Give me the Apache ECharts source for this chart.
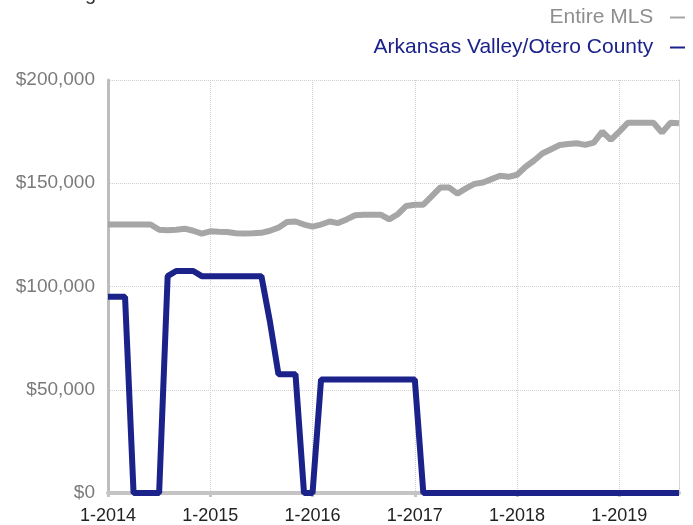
<!DOCTYPE html>
<html>
<head>
<meta charset="utf-8">
<script src="https://cdn.jsdelivr.net/npm/echarts@6/dist/echarts.min.js"></script>
<style>
  html, body { margin: 0; padding: 0; background: #fff; }
  #chart { width: 693px; height: 525px; }
</style>
</head>
<body>
<div id="chart"></div>
<script>
// month labels, 1-2014 .. 8-2019
const months = [
  '1-2014','2-2014','3-2014','4-2014','5-2014','6-2014','7-2014','8-2014','9-2014','10-2014','11-2014','12-2014',
  '1-2015','2-2015','3-2015','4-2015','5-2015','6-2015','7-2015','8-2015','9-2015','10-2015','11-2015','12-2015',
  '1-2016','2-2016','3-2016','4-2016','5-2016','6-2016','7-2016','8-2016','9-2016','10-2016','11-2016','12-2016',
  '1-2017','2-2017','3-2017','4-2017','5-2017','6-2017','7-2017','8-2017','9-2017','10-2017','11-2017','12-2017',
  '1-2018','2-2018','3-2018','4-2018','5-2018','6-2018','7-2018','8-2018','9-2018','10-2018','11-2018','12-2018',
  '1-2019','2-2019','3-2019','4-2019','5-2019','6-2019','7-2019','8-2019'
];

const entireMls = [
  130000, 130000, 130000, 130000, 130000, 130000, 127500, 127200, 127500, 128000, 127000, 125600,
  126700, 126500, 126400, 125800, 125700, 125800, 126000, 127000, 128500, 131200, 131500, 130000,
  129000, 130000, 131500, 130700, 132500, 134500, 134800, 134800, 134800, 132500, 135000, 139000,
  139600, 139600, 143800, 148000, 148000, 145000, 147500, 149700, 150400, 152000, 153600, 153100,
  154100, 158000, 161000, 164500, 166500, 168500, 169000, 169400, 168600, 169700, 175000, 171000,
  175000, 179300, 179300, 179300, 179300, 174500, 179300, 179000
];

const arkansasValley = [
  95000, 95000, 95000, 0, 0, 0, 0, 105000, 107500, 107500, 107500, 105000,
  105000, 105000, 105000, 105000, 105000, 105000, 105000, 83000, 57500, 57500, 57500, 0,
  0, 55000, 55000, 55000, 55000, 55000, 55000, 55000, 55000, 55000, 55000, 55000,
  55000, 0, 0, 0, 0, 0, 0, 0, 0, 0, 0, 0,
  0, 0, 0, 0, 0, 0, 0, 0, 0, 0, 0, 0,
  0, 0, 0, 0, 0, 0, 0, 0
];

const yTicks = [0, 50000, 100000, 150000, 200000];

const font = '"Liberation Sans", Arial, sans-serif';
const everyYear = (i) => i % 12 === 0;

const chart = echarts.init(document.getElementById('chart'));
chart.setOption({
  animation: false,
  textStyle: { fontFamily: font },
  title: {
    text: 'Rolling 12-Month Calculation',
    left: 30,
    top: -21,
    textStyle: { fontSize: 20, fontWeight: 'normal', color: '#333', fontFamily: font },
  },
  legend: {
    orient: 'vertical',
    right: 3,
    top: 2,
    align: 'right',
    icon: 'rect',
    itemWidth: 15,
    itemHeight: 2,
    itemGap: 9,
    formatter: (name) => name + '  ',
    textStyle: { fontSize: 21, fontFamily: font },
    data: [
      { name: 'Entire MLS', textStyle: { color: '#8e8e8e' } },
      { name: 'Arkansas Valley/Otero County', textStyle: { color: '#1b228a' } },
    ],
  },
  grid: { left: 108, right: 14, top: 80, bottom: 31 },
  xAxis: {
    type: 'category',
    boundaryGap: false,
    data: months,
    axisLine: { lineStyle: { color: '#c4c4c4', width: 4 } },
    axisTick: {
      show: true,
      interval: (i) => everyYear(i),
      length: 4,
      lineStyle: { color: '#c4c4c4', width: 3 },
    },
    axisLabel: {
      interval: (i) => everyYear(i),
      color: '#222',
      fontSize: 18,
      margin: 14,
    },
    splitLine: {
      show: true,
      interval: (i) => everyYear(i),
      lineStyle: { color: '#cfcfcf', type: 'dotted', width: 1 },
    },
  },
  yAxis: [
    {
      type: 'value',
      min: yTicks[0],
      max: yTicks[yTicks.length - 1],
      interval: 50000,
      axisLine: { show: true, lineStyle: { color: '#bdbdbd', width: 3 } },
      axisTick: { show: false },
      axisLabel: {
        color: '#7a7a7a',
        fontSize: 19,
        margin: 13,
        formatter: (v) => '$' + v.toLocaleString('en-US'),
      },
      splitLine: { lineStyle: { color: '#cfcfcf', type: 'dotted', width: 1 } },
    },
    {
      type: 'value',
      position: 'right',
      min: yTicks[0],
      max: yTicks[yTicks.length - 1],
      interval: 50000,
      axisLine: { show: true, lineStyle: { color: '#cfcfcf', type: 'dotted', width: 1 } },
      axisTick: { show: false },
      axisLabel: { show: false },
      splitLine: { show: false },
    },
  ],
  series: [
    {
      name: 'Entire MLS',
      type: 'line',
      data: entireMls,
      symbol: 'none',
      color: '#a6a6a6',
      lineStyle: { width: 6, color: '#a6a6a6' },
    },
    {
      name: 'Arkansas Valley/Otero County',
      type: 'line',
      data: arkansasValley,
      symbol: 'none',
      color: '#1b228a',
      lineStyle: { width: 6, color: '#1b228a' },
    },
  ],
});
</script>
</body>
</html>
